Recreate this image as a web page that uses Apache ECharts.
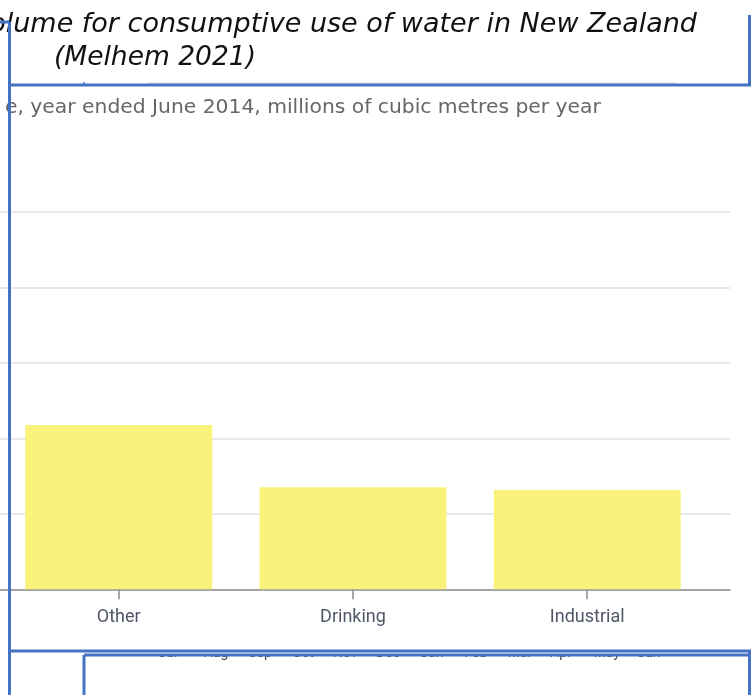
<!DOCTYPE html>
<html><head><meta charset="utf-8">
<script src="https://cdn.jsdelivr.net/npm/echarts@6/dist/echarts.min.js"></script>
<style>html,body{margin:0;padding:0;background:#fff;overflow:hidden}#c{width:751px;height:695px}</style>
</head><body><div id="c"></div>
<script>
// ---- data ----
const categories = ['Other', 'Drinking', 'Industrial'];
const volumes = [1089, 676, 658];           // millions of cubic metres per year
const yMin = 0, yMax = 2500, yStep = 500;
const titleLine1 = 'Volume for consumptive use of water in New Zealand';
const titleLine2 = '(Melhem 2021)';
const subtitle = 'e, year ended June 2014, millions of cubic metres per year';
const months = ['Jul','Aug','Sep','Oct','Nov','Dec','Jan','Feb','Mar','Apr','May','Jun'];

const chart = echarts.init(document.getElementById('c'), null, {renderer: 'canvas'});
const BLUE = '#4472C4';
const line = (x1, y1, x2, y2) => ({type: 'line', z: 100, shape: {x1, y1, x2, y2}, style: {stroke: BLUE, lineWidth: 3}});

const monthX = [168, 216, 260, 303, 345, 388, 432, 476, 520, 561, 607, 649];
const graphics = [
  {type: 'text', z: 50, x: 697, y: 25, style: {text: titleLine1, fontFamily: 'DejaVu Sans', fontStyle: 'italic', fontSize: 27, fill: '#111', textAlign: 'right', textVerticalAlign: 'middle'}},
  {type: 'text', z: 50, x: 54, y: 58, style: {text: titleLine2, fontFamily: 'DejaVu Sans', fontStyle: 'italic', fontSize: 26.5, fill: '#111', textAlign: 'left', textVerticalAlign: 'middle'}},
  {type: 'text', z: 50, x: 5, y: 108, style: {text: subtitle, fontFamily: 'DejaVu Sans', fontSize: 20.3, fill: '#666666', textAlign: 'left', textVerticalAlign: 'middle'}},
  {type: 'line', z: 40, shape: {x1: 148, y1: 83, x2: 676, y2: 83}, style: {stroke: '#e6e6e6', lineWidth: 1.5}},
  {type: 'line', z: 40, shape: {x1: 84, y1: 82, x2: 84, y2: 85}, style: {stroke: '#4472C4', lineWidth: 1.5}}
];
months.forEach((m, i) => graphics.push({type: 'text', z: 40, x: monthX[i], y: 653, style: {text: m, font: '14px Roboto', fill: '#444', textAlign: 'center', textVerticalAlign: 'middle'}}));
graphics.push({type: 'rect', z: 45, shape: {x: 0, y: 636, width: 751, height: 18}, style: {fill: '#fff'}});
graphics.push(
  line(-5, 22, 9.5, 22),
  line(9.5, 22, 9.5, 700),
  line(9.5, 85, 751, 85),
  line(749.5, 15, 749.5, 86),
  line(9.5, 651, 751, 651),
  line(84, 655, 751, 655),
  line(84, 655, 84, 700),
  line(749.5, 651, 749.5, 700)
);

chart.setOption({
  animation: false,
  backgroundColor: '#fff',
  grid: [
    {left: 0, right: 21, top: 212, bottom: 105.7},
    {left: 1.6, right: 46.65, top: 212, bottom: 105.7}
  ],
  xAxis: [
    {gridIndex: 0, type: 'category', data: categories,
     axisLine: {show: true, lineStyle: {color: '#8c8c8c', width: 1.5}},
     axisTick: {show: false}, axisLabel: {show: false}, splitLine: {show: false}},
    {gridIndex: 1, type: 'category', data: categories,
     axisLine: {show: false},
     axisTick: {show: true, alignWithLabel: true, length: 10, lineStyle: {color: '#8c8c8c', width: 1.5}},
     axisLabel: {margin: 19, fontFamily: 'Roboto', fontSize: 18, color: '#4f5668'}}
  ],
  yAxis: [
    {gridIndex: 0, type: 'value', min: yMin, max: yMax, interval: yStep,
     axisLine: {show: false}, axisTick: {show: false}, axisLabel: {show: false},
     splitLine: {show: true, lineStyle: {color: '#e2e2e2', width: 1.5}}},
    {gridIndex: 1, type: 'value', min: yMin, max: yMax, interval: yStep, show: false,
     splitLine: {show: false}}
  ],
  series: [{
    type: 'bar', xAxisIndex: 1, yAxisIndex: 1, data: volumes,
    barWidth: 187, itemStyle: {color: '#F9F27B'}, z: 2
  }],
  graphic: graphics
});
</script></body></html>
